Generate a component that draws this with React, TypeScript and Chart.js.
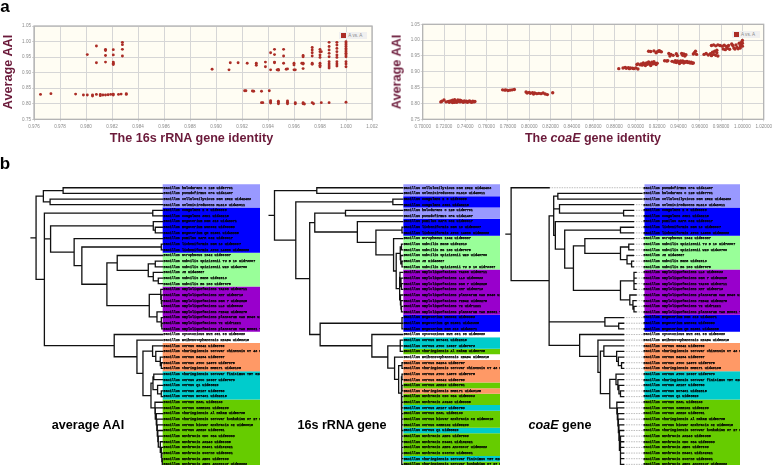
import React, { useEffect, useRef } from "react";
import { Chart, registerables } from "chart.js";

Chart.register(...registerables);

// ---------- panel a: 16S identity vs AAI, one list of AAI values per identity column ----------
const rrnaLowRow: [number, number[]][] = [
  [0.9765, [0.83]], [0.9773, [0.8325]], [0.9792, [0.831]], [0.9798, [0.828]], [0.9801, [0.828]],
  [0.9805, [0.828, 0.825]], [0.9808, [0.83]], [0.9811, [0.83, 0.826]], [0.9813, [0.828]], [0.9815, [0.828]],
  [0.9817, [0.829]], [0.9819, [0.83]], [0.9821, [0.831, 0.828]], [0.9825, [0.83]], [0.9827, [0.831]], [0.9831, [0.8325, 0.83]],
];
const rrnaUpperLeft: [number, number[]][] = [
  [0.9801, [0.958]], [0.9808, [0.9857, 0.932]], [0.9815, [0.975, 0.971, 0.955, 0.934]],
  [0.9821, [0.974, 0.957, 0.934, 0.93, 0.926]], [0.9828, [0.9975, 0.99, 0.975, 0.9536]],
];
const rrnaMiddle: [number, number[]][] = [
  [0.9897, [0.911]], [0.9911, [0.932]], [0.991, [0.909]], [0.9917, [0.932]], [0.9924, [0.93]],
  [0.9931, [0.93, 0.924]], [0.9938, [0.934, 0.919]], [0.9942, [0.964, 0.909]],
  [0.9945, [0.975, 0.958, 0.934, 0.932]], [0.9947, [0.909]], [0.9948, [0.91, 0.908]],
  [0.9952, [0.975, 0.9536, 0.93]], [0.9954, [0.911]], [0.9955, [0.912]],
  [0.996, [0.93, 0.925, 0.909]], [0.9961, [0.909]], [0.9966, [0.93]],
  [0.9967, [0.955, 0.951, 0.93, 0.928, 0.913]],
  [0.9974, [0.981, 0.973, 0.964, 0.9536, 0.93, 0.927]],
  [0.998, [0.975, 0.9675, 0.957, 0.949, 0.93, 0.924, 0.919]], [0.9981, [0.9675]],
  [0.9987, [0.9975, 0.984, 0.973, 0.962, 0.951, 0.935, 0.928, 0.921, 0.915]],
  [0.9993, [0.9975, 0.989, 0.978, 0.9675, 0.957, 0.949, 0.935, 0.928, 0.921]],
  [1.0, [0.9996, 0.995, 0.99, 0.984, 0.978, 0.973, 0.9675, 0.962, 0.957, 0.951, 0.935, 0.928, 0.919]],
];
const rrnaBottom: [number, number[]][] = [
  [0.9922, [0.842]], [0.9923, [0.842]], [0.9928, [0.841]], [0.9929, [0.84]], [0.9935, [0.84, 0.8036]],
  [0.9936, [0.8036]], [0.9941, [0.842]], [0.9942, [0.81, 0.806, 0.8025]], [0.9948, [0.808, 0.8036, 0.8]],
  [0.9955, [0.809, 0.805, 0.8]], [0.9961, [0.8036, 0.8]], [0.9967, [0.8036, 0.8]], [0.9968, [0.799]],
  [0.9974, [0.8036]], [0.9975, [0.8]], [0.9981, [0.8036]], [0.9987, [0.8036]], [1.0, [0.805]],
];

// ---------- panel a: coaE identity vs AAI ----------
const coaeLow: [number, number][] = [
  [0.717, 0.805], [0.718, 0.807], [0.72, 0.811], [0.722, 0.805], [0.724, 0.806], [0.725, 0.804], [0.726, 0.808],
  [0.727, 0.806], [0.728, 0.81], [0.729, 0.805], [0.73, 0.812], [0.731, 0.807], [0.732, 0.804], [0.733, 0.811],
  [0.734, 0.807], [0.735, 0.805], [0.736, 0.809], [0.737, 0.806], [0.738, 0.804], [0.739, 0.808], [0.74, 0.805],
  [0.741, 0.807], [0.742, 0.804], [0.743, 0.806], [0.744, 0.808], [0.745, 0.805], [0.746, 0.804], [0.747, 0.807],
  [0.748, 0.805], [0.749, 0.806], [0.73, 0.804], [0.735, 0.81], [0.728, 0.803],
];
const coaeMid: [number, number][] = [
  [0.775, 0.843], [0.777, 0.842], [0.778, 0.843], [0.78, 0.841], [0.782, 0.842], [0.784, 0.843], [0.786, 0.844],
  [0.797, 0.836], [0.798, 0.833], [0.8, 0.835], [0.801, 0.832], [0.803, 0.834], [0.804, 0.83], [0.805, 0.833],
  [0.807, 0.831], [0.809, 0.832], [0.811, 0.831], [0.813, 0.833], [0.815, 0.83], [0.817, 0.828], [0.822, 0.834],
];
const coaeUpperA: [number, number][] = [
  [0.884, 0.91], [0.888, 0.912], [0.89, 0.914], [0.891, 0.911], [0.893, 0.913], [0.894, 0.91], [0.895, 0.912],
  [0.897, 0.911], [0.898, 0.91], [0.9, 0.912], [0.902, 0.909], [0.901, 0.923], [0.902, 0.925], [0.904, 0.922],
  [0.905, 0.925], [0.906, 0.921], [0.907, 0.928], [0.908, 0.924], [0.909, 0.92], [0.91, 0.928], [0.911, 0.924],
  [0.912, 0.931], [0.913, 0.926], [0.914, 0.92], [0.915, 0.93], [0.916, 0.925], [0.917, 0.932], [0.918, 0.926],
  [0.919, 0.923], [0.92, 0.927], [0.912, 0.965], [0.914, 0.964], [0.917, 0.966], [0.919, 0.96], [0.92, 0.963],
  [0.921, 0.965], [0.922, 0.967], [0.923, 0.964], [0.924, 0.963],
];
const coaeUpperB: [number, number][] = [
  [0.927, 0.935], [0.929, 0.934], [0.93, 0.935], [0.931, 0.958], [0.932, 0.95], [0.933, 0.955], [0.935, 0.952],
  [0.934, 0.933], [0.936, 0.931], [0.937, 0.935], [0.938, 0.929], [0.939, 0.934], [0.94, 0.931], [0.941, 0.926],
  [0.942, 0.934], [0.943, 0.93], [0.944, 0.934], [0.945, 0.928], [0.946, 0.932], [0.947, 0.93], [0.948, 0.933],
  [0.949, 0.929], [0.95, 0.931], [0.951, 0.928], [0.952, 0.93], [0.953, 0.927], [0.954, 0.928],
  [0.943, 0.958], [0.944, 0.952], [0.945, 0.956], [0.946, 0.95], [0.947, 0.954], [0.938, 0.957], [0.939, 0.951],
  [0.954, 0.956], [0.955, 0.96], [0.956, 0.965], [0.957, 0.955],
];
const coaeTop: [number, number][] = [
  [0.964, 0.955], [0.966, 0.958], [0.968, 0.953], [0.97, 0.957], [0.971, 0.951], [0.972, 0.962], [0.973, 0.955],
  [0.974, 0.965], [0.975, 0.952], [0.976, 0.96], [0.977, 0.95], [0.976, 0.968], [0.971, 0.983], [0.973, 0.985],
  [0.975, 0.982], [0.977, 0.985], [0.979, 0.983], [0.981, 0.981], [0.983, 0.984], [0.985, 0.98], [0.987, 0.983],
  [0.982, 0.972], [0.984, 0.97], [0.986, 0.974], [0.988, 0.971], [0.99, 0.988], [0.991, 0.983], [0.992, 0.975],
  [0.993, 0.972], [0.994, 0.985], [0.995, 0.977], [0.996, 0.973], [0.997, 0.99], [0.998, 0.982], [0.998, 0.975],
  [0.999, 0.993], [0.999, 0.985], [1.0, 0.999], [1.0, 0.99], [1.0, 0.981],
];

// ---------- panel b: leaves ----------
const species = [
  "halodurans C 125 uid57791", "pseudofirmus OF4 uid41467", "cellulosilyticus DSM 2522 uid42483", "selenitireducens MLS10 uid48611",
  "coagulans 2 6 uid66399", "coagulans 36D1 uid48215", "megaterium DSM 319 uid48371", "megaterium WSH002 uid69353",
  "megaterium QM B1551 uid48385", "pumilus SAFR 032 uid59017", "licheniformis DSM 13 uid58097", "licheniformis ATCC 14580 uid58099",
  "atrophaeus 1942 uid59887", "subtilis spizizenii TU B 10 uid73967", "subtilis spizizenii W23 uid49760", "JH uid48587",
  "subtilis BSn5 uid62913", "subtilis BS 168 uid57675", "amyloliquefaciens TA208 uid68711", "amyloliquefaciens XH7 uid68713",
  "amyloliquefaciens DSM 7 uid52825", "amyloliquefaciens LL3 uid66633", "amyloliquefaciens FZB42 uid58275", "amyloliquefaciens plantarum CAU B946 uid",
  "amyloliquefaciens Y2 uid71221", "amyloliquefaciens plantarum YAU B9601 Y2 u", "cytotoxicus NVH 391 98 uid58089", "weihenstephanensis KBAB4 uid58315",
  "cereus G9842 uid58759", "thuringiensis serovar chinensis CT 43 uid1", "cereus B4264 uid58757", "cereus ATCC 14579 uid57975",
  "thuringiensis BMB171 uid49135", "thuringiensis serovar finitimus YBT 020 u", "cereus ATCC 10987 uid57673", "cereus Q1 uid58529",
  "cereus AH187 uid58753", "cereus NC7401 uid82815", "cereus E33L uid58103", "cereus 03BB102 uid59299",
  "thuringiensis Al Hakam uid58795", "thuringiensis serovar konkukian 97 27 ui", "cereus biovar anthracis CI uid50615", "cereus AH820 uid58751",
  "anthracis CDC 684 uid59303", "anthracis A0248 uid59385", "anthracis H9401 uid162021", "anthracis Sterne uid58091",
  "anthracis Ames uid57909", "anthracis Ames Ancestor uid58083",
];
const speciesColor = [
  0, 0, 0, 0, 1, 1, 1, 1, 1, 1, 1, 1, 2, 2, 2, 2, 2, 2, 3, 3, 3, 3, 3, 3, 3, 3, 4, 4,
  5, 5, 5, 5, 5, 6, 6, 6, 6, 6, 7, 7, 7, 7, 7, 7, 7, 7, 7, 7, 7, 7,
];
const palette = ["#9999ff", "#0000ff", "#99ff99", "#9900cc", "#ffffff", "#ff9966", "#00cccc", "#66cc00"];

const orderAAI = [
  0, 1, 2, 3, 4, 5, 6, 7, 8, 9, 10, 11, 12, 13, 14, 15, 16, 17, 18, 19, 20, 21, 22, 23, 24, 25,
  26, 27, 28, 29, 30, 31, 32, 33, 34, 35, 36, 37, 38, 39, 40, 41, 42, 43, 44, 45, 46, 47, 48, 49,
];
const order16s = [
  2, 3, 4, 5, 0, 1, 9, 10, 11, 12, 16, 17, 14, 15, 13, 18, 21, 20, 19, 23, 22, 24, 25, 7, 8, 6,
  26, 37, 34, 40, 27, 30, 29, 31, 28, 43, 32, 44, 45, 36, 38, 42, 39, 35, 48, 46, 49, 47, 33, 41,
];
const orderCoaE = [
  1, 0, 2, 3, 4, 5, 9, 10, 11, 12, 13, 14, 15, 16, 17, 21, 20, 18, 19, 23, 22, 24, 25, 6, 7, 8,
  26, 27, 28, 29, 30, 31, 32, 34, 33, 36, 37, 35, 38, 39, 43, 40, 42, 41, 45, 44, 48, 46, 47, 49,
];

// ---------- panel b: topologies, [node depth, ...children]; a bare number is a leaf tip ----------
type TreeNode = number | TreeNode[];
const a = 162.3;
const treeAAI: TreeNode = [36,
  [43.3, [63, a, a], [50, a, a]],
  [44.3,
    [152.5, a, a],
    [50.5,
      [153, a, [155, a, a]],
      [74, a,
        [81.7,
          [161, a, a],
          [106.7,
            [117, a, [148, [155, a, a], [153, a, [158, a, a]]]],
            [149,
              [160.5, a, [161, a, [161.5, a, a]]],
              [156.7, a, [161, a, [161.5, a, a]]]]]]]],
    [114, a,
      [136.7, a,
        [142.7,
          [152.3, a, [155.5, a, [160, a, [161, a, a]]]],
          [150.7,
            [152.7, [153.5, a, a], [157.3, a, [161, a, a]]],
            [154.7, a, [155, a, [156, a, [156.5, a, [157, a, [157.5, a, [158, a, [160, a, [161, a, [161.5, a, [162, a, a]]]]]]]]]]]]]]]]];
const b = 400.7;
const tree16s: TreeNode = [274.3,
  [316, b, b],
  [295.3,
    [391, b, b],
    [309,
      [314,
        [344.3, b, b],
        [356, b,
          [374.3,
            [400, b, b],
            [391.7, b,
              [394.3,
                [398.3, [399.5, b, b], [398.8, b, [400, b, b]]],
                [397.7,
                  [398, b, [399, b, [399.5, b, b]]],
                  [398.5, b, [399, b, [399.5, b, b]]]]]]]]],
      [319.3,
        [400, b, b, b],
        [370.3, b,
          [386,
            [398.3, b, b, b],
            [392.7, b,
              [396.7,
                [400, b, b],
                [399.5, [400, b, b], [399.7, [400, b, b], [399.8, b, b, b, b, b, b, b, b, b, b, b, b, b]]]]]]]]]]];
const u = 628.5;
const p = 631;
const d = 619;
const e = 636.7;
const treeCoaE: TreeNode = [510.7,
  547.3,
  [547.3,
    [551.7,
      [555.7, e, e],
      [557.3, u, [619, u, u]],
      [553.3, u,
        [562.3,
          [616, u, u],
          [570.7,
            [581.7, u, [616, [624, u, u], [622.3, u, [626.7, u, u]]]],
            [616,
              [629, p, p, p, p],
              [625, p, [628, p, [629, p, p]]]]]]]],
    [601, d, [614.3, d, d]],
    [576.7, d,
      [594.3, d,
        [596.7,
          [600, d, [612.3, d, [614, d, [617, d, d]]]],
          [605.7,
            [611.7, d, [613.5, d, [614.5, d, [616, d, d]]]],
            [612.5, d, [613, d, [613.5, d, [614, d, [614.5, d, [615, d, [616, d, d, d, d, d, d]]]]]]]]]]]]];

const tickGray = "#8a8a8a";
const maroon = "#6b1a3a";
const plotRed = "#ab2d26";
const legendText = "A vs. A";

function columns(list: [number, number[]][]) {
  return list.flatMap(([x, ys]) => ys.map((y) => ({ x, y })));
}
function pairs(list: [number, number][]) {
  return list.map(([x, y]) => ({ x, y }));
}

const plotFrame = {
  id: "plotFrame",
  beforeDraw(c: any) {
    const { left, top, width, height } = c.chartArea;
    c.ctx.save();
    c.ctx.fillStyle = "#fffdf3";
    c.ctx.fillRect(left, top, width, height);
    c.ctx.restore();
  },
  afterDraw(c: any) {
    const { left, top, width, height } = c.chartArea;
    c.ctx.save();
    c.ctx.strokeStyle = "#b4b4b4";
    c.ctx.lineWidth = 1.3;
    c.ctx.strokeRect(left, top, width, height);
    c.ctx.restore();
  },
};

function scatterConfig(
  data: { x: number; y: number }[],
  xMin: number, xMax: number, xStep: number, digits: number,
  yAxisWidth: number, xAxisHeight: number, padTop: number, padRight: number, radius: number,
) {
  const tickFont = { family: "Liberation Sans", size: 4.6 };
  return {
    type: "scatter",
    data: {
      datasets: [{
        label: legendText, data, backgroundColor: plotRed, borderColor: plotRed,
        pointRadius: radius, pointBorderWidth: 0,
      }],
    },
    options: {
      responsive: false, animation: false,
      layout: { padding: { top: padTop, right: padRight, left: 0, bottom: 0 } },
      plugins: { tooltip: { enabled: false }, legend: { display: false } },
      scales: {
        x: {
          type: "linear", min: xMin, max: xMax,
          afterFit: (s: any) => { s.height = xAxisHeight; },
          grid: { color: "#d6d6d6", lineWidth: 1, tickLength: 2 },
          ticks: {
            stepSize: xStep, color: tickGray, font: tickFont, padding: 3, maxRotation: 0, autoSkip: false,
            callback: (v: number) => v.toFixed(digits),
          },
        },
        y: {
          type: "linear", min: 0.75, max: 1.05,
          afterFit: (s: any) => { s.width = yAxisWidth; },
          grid: { color: "#d6d6d6", lineWidth: 1, tickLength: 2 },
          ticks: {
            stepSize: 0.05, color: tickGray, font: tickFont, padding: 1,
            callback: (v: number) => v.toFixed(2),
          },
        },
      },
    },
    plugins: [plotFrame],
  };
}

function treeConfig(
  tree: TreeNode, order: number[], xMin: number, bandStart: number, bandEnd: number, stub: number, topPad: number,
) {
  const rowTop = -0.6;
  const rowBottom = 49.45;
  const path: ({ x: number; y: number } | { x: null; y: null })[] = [];
  const dashes: ({ x: number; y: number } | { x: null; y: null })[] = [];
  const gap = { x: null, y: null };
  let row = 0;
  const walk = (node: TreeNode, parentX: number): number => {
    if (typeof node === "number") {
      const y = row++;
      path.push({ x: parentX, y }, { x: node, y }, gap);
      if (node < bandStart - 1) dashes.push({ x: node, y }, { x: bandStart, y }, gap);
      return y;
    }
    const [x, ...kids] = node as [number, ...TreeNode[]];
    const ys = kids.map((k) => walk(k, x));
    const first = ys[0];
    const last = ys[ys.length - 1];
    const y = (first + last) / 2;
    path.push({ x, y: first }, { x, y: last }, gap);
    path.push({ x: parentX, y }, { x, y }, gap);
    return y;
  };
  walk(tree, stub);

  const bandMid = (bandStart + bandEnd) / 2;
  const runs: any[] = [];
  let start = 0;
  for (let i = 1; i <= order.length; i++) {
    if (i === order.length || speciesColor[order[i]] !== speciesColor[order[start]]) {
      const color = palette[speciesColor[order[start]]];
      runs.push({
        data: [
          { x: bandMid, y: start === 0 ? rowTop : start - 0.5 },
          { x: bandMid, y: i === order.length ? rowBottom : i - 0.5 },
        ],
        showLine: true, pointRadius: 0, clip: false, borderCapStyle: "butt",
        borderColor: color, borderWidth: bandEnd - bandStart, order: 3,
      });
      start = i;
    }
  }
  return {
    type: "scatter",
    data: {
      datasets: [
        ...runs,
        {
          data: dashes, showLine: true, pointRadius: 0, clip: false, spanGaps: false, order: 2,
          borderColor: "#bdbdbd", borderWidth: 1, borderDash: [1.5, 1],
        },
        {
          data: path, showLine: true, pointRadius: 0, clip: false, spanGaps: false, order: 1,
          borderColor: "#111", borderWidth: 1.3, borderCapStyle: "square",
        },
      ],
    },
    options: {
      responsive: false, animation: false,
      layout: { padding: { top: topPad, bottom: 5, left: 0, right: 0 } },
      plugins: { legend: { display: false }, tooltip: { enabled: false } },
      scales: {
        x: { type: "linear", display: false, min: xMin, max: bandStart },
        y: {
          type: "linear", position: "right", reverse: true, min: -1, max: 50,
          afterFit: (s: any) => { s.width = bandEnd - bandStart; },
          grid: { display: false, drawTicks: false }, border: { display: false },
          ticks: {
            stepSize: 1, autoSkip: false, maxTicksLimit: 60, z: 1, padding: 1, color: "#000",
            textStrokeColor: "#000", textStrokeWidth: 0.25,
            font: { family: "Liberation Mono", size: 3.4, weight: "bold" },
            callback: (v: number) => (order[v] === undefined ? "" : "Bacillus " + species[order[v]]),
          },
        },
      },
    },
  };
}

function Panel({ config, left, top, width, height }: any) {
  const ref = useRef<HTMLCanvasElement>(null);
  useEffect(() => {
    const chart = new Chart(ref.current as HTMLCanvasElement, config());
    return () => chart.destroy();
  }, []);
  return (
    <canvas ref={ref} width={width} height={height}
      style={{ position: "absolute", left, top, width, height, display: "block" }} />
  );
}

function Label({ x, y, size, color, rotate, children }: any) {
  return (
    <div style={{
      position: "absolute", left: x, top: y, whiteSpace: "nowrap", lineHeight: 1,
      fontFamily: "'Liberation Sans', sans-serif", fontWeight: "bold", fontSize: size, color: color ?? "#000",
      transform: `translate(-50%, -50%)${rotate ? " rotate(-90deg)" : ""}`,
    }}>{children}</div>
  );
}

function LegendBox({ x, y }: any) {
  return (
    <div style={{
      position: "absolute", left: x, top: y, width: 27.5, height: 7.6, background: "#f0f0f0",
      display: "flex", alignItems: "center", whiteSpace: "nowrap",
      fontFamily: "'Liberation Sans', sans-serif", fontSize: 4.6, color: tickGray,
    }}>
      <span style={{ width: 5, height: 5, marginLeft: 2, marginRight: 2, background: plotRed, display: "block" }} />
      {legendText}
    </div>
  );
}

export default function App() {
  return (
    <div style={{ position: "absolute", left: 0, top: 0, width: 775, height: 465, overflow: "hidden", background: "#fff" }}>
      <Panel left={0} top={0} width={390} height={140}
        config={() => scatterConfig(
          [...columns(rrnaLowRow), ...columns(rrnaUpperLeft), ...columns(rrnaMiddle), ...columns(rrnaBottom)],
          0.976, 1.002, 0.002, 3, 34, 20.7, 26, 18, 1.45)} />
      <Panel left={385} top={0} width={390} height={140}
        config={() => scatterConfig(
          [...pairs(coaeLow), ...pairs(coaeMid), ...pairs(coaeUpperA), ...pairs(coaeUpperB), ...pairs(coaeTop)],
          0.7, 1.02, 0.02, 5, 37.7, 20.7, 24.3, 9, 1.7)} />
      <Panel left={0} top={150} width={260} height={325}
        config={() => treeConfig(treeAAI, orderAAI, 0, 162.3, 259.7, 31, 32.1)} />
      <Panel left={260} top={150} width={240} height={325}
        config={() => treeConfig(tree16s, order16s, 260, 400.7, 498, 269, 32.1)} />
      <Panel left={500} top={150} width={240} height={325}
        config={() => treeConfig(treeCoaE, orderCoaE, 500, 637.3, 734.7, 505.7, 32.1)} />

      <LegendBox x={339.3} y={31.7} />
      <LegendBox x={732} y={30.7} />

      <Label x={5} y={6} size={17}>a</Label>
      <Label x={5} y={163} size={17}>b</Label>
      <Label x={7.5} y={72} size={12.7} color={maroon} rotate>Average AAI</Label>
      <Label x={191.5} y={138} size={12.6} color={maroon}>The 16s rRNA gene identity</Label>
      <Label x={397} y={72} size={12.7} color={maroon} rotate>Average AAI</Label>
      <Label x={593} y={138} size={12.5} color={maroon}>The <i>coaE</i> gene identity</Label>
      <Label x={88} y={425} size={12.6}>average AAI</Label>
      <Label x={342} y={425} size={12.6}>16s rRNA gene</Label>
      <Label x={560} y={425} size={12.6}><i>coaE</i> gene</Label>
    </div>
  );
}
